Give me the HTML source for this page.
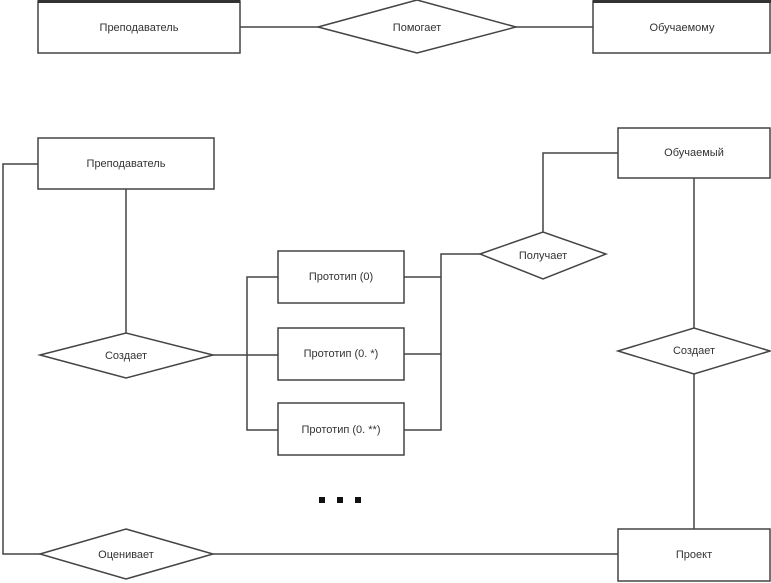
<!DOCTYPE html>
<html><head><meta charset="utf-8"><style>
html,body{margin:0;padding:0;background:#fff;width:771px;height:583px;overflow:hidden}
svg{display:block}
text{font-family:"Liberation Sans",sans-serif;font-size:11px;fill:#333;text-anchor:middle;dominant-baseline:middle}
</style></head><body>
<svg width="771" height="583" viewBox="0 0 771 583">
<g fill="#fff" stroke="#444" stroke-width="1.5">
<!-- top row -->
<line x1="240" y1="27" x2="318" y2="27"/>
<line x1="516" y1="27" x2="593" y2="27"/>
<rect x="38" y="1" width="202" height="52"/>
<rect x="38" y="0" width="202" height="3" fill="#333" stroke="none"/>
<polygon points="318,27 417,0 516,27 417,53"/>
<rect x="593" y="1" width="177" height="52"/>
<rect x="593" y="0" width="178" height="3" fill="#333" stroke="none"/>
<!-- connectors -->
<polyline fill="none" points="38,164 3,164 3,554 40,554"/>
<line x1="213" y1="554" x2="618" y2="554"/>
<line x1="126" y1="189" x2="126" y2="333"/>
<line x1="213" y1="355" x2="278" y2="355"/>
<polyline fill="none" points="278,277 247,277 247,430 278,430"/>
<polyline fill="none" points="404,277 441,277"/>
<polyline fill="none" points="404,354 441,354"/>
<polyline fill="none" points="404,430 441,430 441,254 480,254"/>
<polyline fill="none" points="618,153 543,153 543,232"/>
<line x1="694" y1="178" x2="694" y2="328"/>
<line x1="694" y1="374" x2="694" y2="529"/>
<!-- shapes -->
<rect x="38" y="138" width="176" height="51"/>
<rect x="618" y="128" width="152" height="50"/>
<polygon points="480,254 543,232 606,254 543,279"/>
<rect x="278" y="251" width="126" height="52"/>
<rect x="278" y="328" width="126" height="52"/>
<rect x="278" y="403" width="126" height="52"/>
<polygon points="40,355 126,333 213,355 126,378"/>
<polygon points="618,351 694,328 770,351 694,374"/>
<rect x="618" y="529" width="152" height="52"/>
<polygon points="40,554 126,529 213,554 126,579"/>
</g>
<g fill="#111">
<rect x="319" y="497" width="6" height="6"/>
<rect x="337" y="497" width="6" height="6"/>
<rect x="355" y="497" width="6" height="6"/>
</g>
<text x="139" y="28">Преподаватель</text>
<text x="417" y="28">Помогает</text>
<text x="682" y="28">Обучаемому</text>
<text x="126" y="164">Преподаватель</text>
<text x="694" y="153">Обучаемый</text>
<text x="543" y="256">Получает</text>
<text x="341" y="277">Прототип (0)</text>
<text x="341" y="354">Прототип (0. *)</text>
<text x="341" y="430">Прототип (0. **)</text>
<text x="126" y="356">Создает</text>
<text x="694" y="351">Создает</text>
<text x="694" y="555">Проект</text>
<text x="126" y="555">Оценивает</text>
</svg>
</body></html>
